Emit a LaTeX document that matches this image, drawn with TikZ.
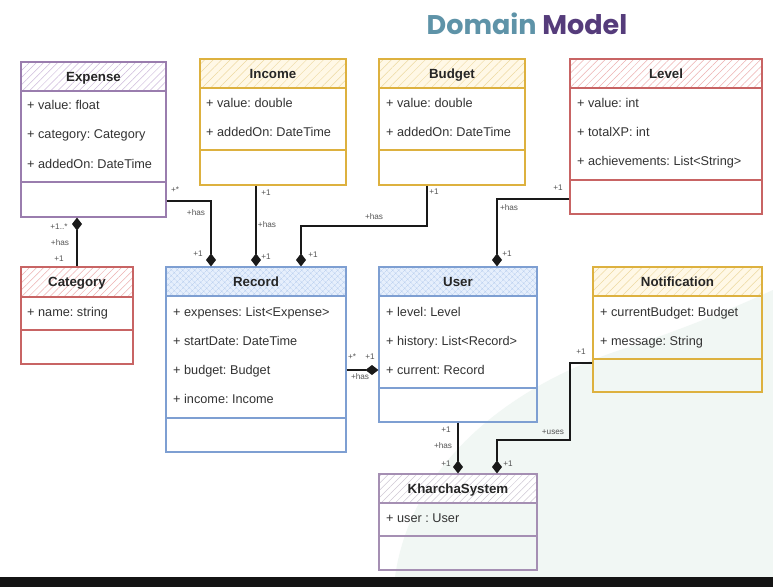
\documentclass[tikz,border=0pt]{standalone}
\usepackage{fontspec}
\setmainfont{Liberation Sans}
\newfontfamily\titlefont{Poppins}
\usetikzlibrary{patterns.meta,arrows.meta,fit,calc}

\definecolor{domcol}{HTML}{5E93A8}
\definecolor{modcol}{HTML}{553C7B}
\definecolor{purln}{HTML}{9A7DAE}
\definecolor{purpat}{HTML}{CDBADB}
\definecolor{yelln}{HTML}{DDB13F}
\definecolor{yelpat}{HTML}{EDD9A0}
\definecolor{yelbg}{HTML}{FFF8E6}
\definecolor{redln}{HTML}{C86464}
\definecolor{redpat}{HTML}{EDB0B0}
\definecolor{bluln}{HTML}{7E9FD2}
\definecolor{blupat}{HTML}{B7CDEE}
\definecolor{blubg}{HTML}{E6EFFC}
\definecolor{grayln}{HTML}{A58FB3}
\definecolor{graypat}{HTML}{CFC8D4}
\definecolor{blobcol}{HTML}{F1F7F4}
\definecolor{lblcol}{HTML}{555555}

\tikzset{
  pur-bg/.style={fill=white},
  pur-pat/.style={pattern={Lines[angle=45,distance=5pt,line width=0.5pt]},pattern color=purpat},
  pur-ln/.style={draw=purln,line width=1.1pt},
  yel-bg/.style={fill=yelbg},
  yel-pat/.style={pattern={Lines[angle=45,distance=6pt,line width=0.45pt]},pattern color=yelpat},
  yel-ln/.style={draw=yelln,line width=1.1pt},
  red-bg/.style={fill=white},
  red-pat/.style={pattern={Lines[angle=45,distance=5pt,line width=0.5pt]},pattern color=redpat},
  red-ln/.style={draw=redln,line width=1.1pt},
  blu-bg/.style={fill=blubg},
  blu-pat/.style={pattern={Hatch[angle=45,distance=4pt,line width=0.4pt]},pattern color=blupat},
  blu-ln/.style={draw=bluln,line width=1.1pt},
  gra-bg/.style={fill=white},
  gra-pat/.style={pattern={Lines[angle=45,distance=5pt,line width=0.5pt]},pattern color=graypat},
  gra-ln/.style={draw=grayln,line width=1.1pt},
  titletext/.style={font=\fontsize{13.3}{15}\selectfont\bfseries,text=black!85,text height=9.6pt,text depth=0pt,inner sep=0pt},
  attr/.style={font=\fontsize{12.7}{15}\selectfont\frenchspacing,text=black!80,anchor=west,inner sep=0pt,text height=9.2pt,text depth=0pt},
  lbl/.style={font=\fontsize{8.2}{9}\selectfont,text=lblcol,inner sep=0pt},
  conn/.style={draw=black!90,line width=1.2pt},
  dconn/.style={conn,-{Diamond[length=13pt,width=10pt]}},
}

% #1 name #2 x1 #3 y1 #4 x2 #5 y2 #6 header-bottom #7 separator #8 style-prefix #9 title
\newcommand\umlcls[9]{%
  \fill[#8-bg] (#2,#3) rectangle (#4,#6);
  \fill[#8-pat] (#2,#3) rectangle (#4,#6);
  \node[fit={(#2,#3) (#4,#5)}, inner sep=0pt, #8-ln] (#1) {};
  \draw[#8-ln] (#2,#6) -- (#4,#6);
  \draw[#8-ln] (#2,#7) -- (#4,#7);
  \node[titletext] (#1-title) at ({(#2+#4)/2},{(#3+#6)/2}) {#9};
}

\begin{document}
\begin{tikzpicture}[x=1pt,y=-1pt]
\useasboundingbox (0,0) rectangle (773,587);
\fill[white] (0,0) rectangle (773,587);
% soft background blob
\fill[blobcol] (395,577) .. controls (410,470) and (500,390) .. (620,350)
   .. controls (690,327) and (740,305) .. (773,290) -- (773,577) -- cycle;
% bottom band
\fill[black!92] (0,577) rectangle (773,587);

% title
\node[font=\titlefont\fontsize{27}{30}\selectfont\bfseries,inner sep=0pt] (title) at (527,24)
  {\textcolor{domcol}{Domain} \textcolor{modcol}{Model}};

% classes
\umlcls{expense}{21}{62}{166}{217}{91}{182}{pur}{Expense}
\node[attr] (e1) at (27,105) {+ value: float};
\node[attr] (e2) at (27,134) {+ category: Category};
\node[attr] (e3) at (27,164) {+ addedOn: DateTime};

\umlcls{income}{200}{59}{346}{185}{88}{150}{yel}{Income}
\node[attr] (i1) at (206,103) {+ value: double};
\node[attr] (i2) at (206,132) {+ addedOn: DateTime};

\umlcls{budget}{379}{59}{525}{185}{88}{150}{yel}{Budget}
\node[attr] (b1) at (386,103) {+ value: double};
\node[attr] (b2) at (386,132) {+ addedOn: DateTime};

\umlcls{level}{570}{59}{762}{214}{88}{180}{red}{Level}
\node[attr] (v1) at (577,103) {+ value: int};
\node[attr] (v2) at (577,132) {+ totalXP: int};
\node[attr] (v3) at (577,161) {+ achievements: List<String>};

\umlcls{category}{21}{267}{133}{364}{297}{330}{red}{Category}
\node[attr] (c1) at (27,312) {+ name: string};

\umlcls{record}{166}{267}{346}{452}{296}{418}{blu}{Record}
\node[attr] (r1) at (173,312) {+ expenses: List<Expense>};
\node[attr] (r2) at (173,341) {+ startDate: DateTime};
\node[attr] (r3) at (173,370) {+ budget: Budget};
\node[attr] (r4) at (173,399) {+ income: Income};

\umlcls{user}{379}{267}{537}{422}{296}{388}{blu}{User}
\node[attr] (u1) at (386,312) {+ level: Level};
\node[attr] (u2) at (386,341) {+ history: List<Record>};
\node[attr] (u3) at (386,370) {+ current: Record};

\umlcls{notification}{593}{267}{762}{392}{296}{359}{yel}{Notification}
\node[attr] (n1) at (600,312) {+ currentBudget: Budget};
\node[attr] (n2) at (600,341) {+ message: String};

\umlcls{kharcha}{379}{474}{537}{570}{503}{536}{gra}{KharchaSystem}
\node[attr] (k1) at (386,518) {+ user : User};

% connectors
\draw[dconn] (expense.east |- 0,201) -| (record.north -| 211,0);
\draw[dconn] (income.south -| 256,0) -- (record.north -| 256,0);
\draw[dconn] (budget.south -| 427,0) -- (427,226) -| (record.north -| 301,0);
\draw[dconn] (level.west |- 0,199) -| (user.north -| 497,0);
\draw[dconn] (category.north -| 77,0) -- (expense.south -| 77,0);
\draw[dconn] (record.east |- 0,370) -- (user.west |- 0,370);
\draw[dconn] (user.south -| 458,0) -- (kharcha.north -| 458,0);
\draw[dconn] (notification.west |- 0,363) -| (570,440) -| (kharcha.north -| 497,0);

% labels
\node[lbl] (la1) at (175,190) {+*};
\node[lbl] (la2) at (196,213) {+has};
\node[lbl] (la3) at (198,254) {+1};
\node[lbl] (lb1) at (266,193) {+1};
\node[lbl] (lb2) at (267,225) {+has};
\node[lbl] (lb3) at (266,257) {+1};
\node[lbl] (lc1) at (434,192) {+1};
\node[lbl] (lc2) at (374,217) {+has};
\node[lbl] (lc3) at (313,255) {+1};
\node[lbl] (ld1) at (558,188) {+1};
\node[lbl] (ld2) at (509,208) {+has};
\node[lbl] (ld3) at (507,254) {+1};
\node[lbl] (le1) at (59,227) {+1..*};
\node[lbl] (le2) at (60,243) {+has};
\node[lbl] (le3) at (59,259) {+1};
\node[lbl] (lf1) at (352,357) {+*};
\node[lbl] (lf2) at (370,357) {+1};
\node[lbl] (lf3) at (360,377) {+has};
\node[lbl] (lg1) at (446,430) {+1};
\node[lbl] (lg2) at (443,446) {+has};
\node[lbl] (lg3) at (446,464) {+1};
\node[lbl] (lh1) at (581,352) {+1};
\node[lbl] (lh2) at (553,432) {+uses};
\node[lbl] (lh3) at (508,464) {+1};
\end{tikzpicture}
\end{document}
